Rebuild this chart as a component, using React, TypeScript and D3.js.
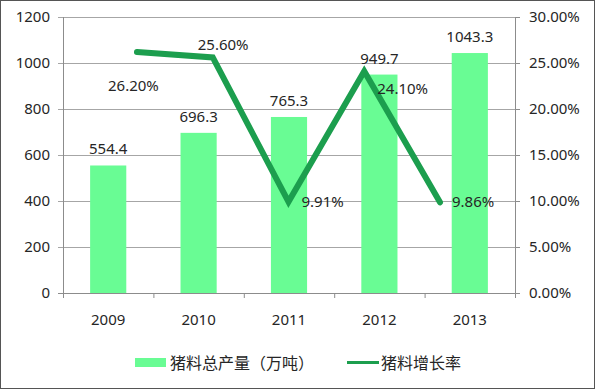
import React from "react";
import { scaleBand, scaleLinear, scalePoint, line } from "d3";

const years = ["2009", "2010", "2011", "2012", "2013"];
const output = [554.4, 696.3, 765.3, 949.7, 1043.3];
const growth = [26.2, 25.6, 9.91, 24.1, 9.86];
const leftTicks = [0, 200, 400, 600, 800, 1000, 1200];
const rightTicks = [0, 5, 10, 15, 20, 25, 30];

// data label nudges for the growth line (dx from point, dy from point)
const growthLabelOffsets = [
  [-29, 39],
  [-15, -7],
  [13, 5],
  [13, 23],
  [12, 5],
];

const W = 595;
const H = 390;
const left = 63;
const right = 515;
const top = 17;
const bottom = 293;
const font = "'Noto Sans', 'Noto Sans CJK SC', sans-serif";
const textColor = "#262626";
const barColor = "#69fc94";
const lineColor = "#1c9e4e";
const axisColor = "#8c8c8c";

const App = () => {
  const x = scaleBand().domain(years).range([left, right]).paddingInner(0.6).paddingOuter(0.3);
  const band = scaleBand().domain(years).range([left, right]);
  const xLine = scalePoint().domain(years).range([137, 440]);
  const y = scaleLinear().domain([0, 1200]).range([bottom, top]);
  const y2 = scaleLinear().domain([0, 30]).range([bottom, top]);

  const path = line<number>()
    .x((d, i) => xLine(years[i]) as number)
    .y((d) => y2(d))(growth);

  return (
    <svg
      width={W}
      height={H}
      style={{ position: "absolute", left: 0, top: 0, background: "#fff" }}
      fontFamily={font}
    >
      <rect x={0.5} y={0.5} width={W - 1} height={H - 2} fill="#fff" stroke="#555" />

      {/* gridlines */}
      {leftTicks.map((t) => (
        <line key={t} x1={left - 5} x2={right} y1={y(t) + 0.5} y2={y(t) + 0.5} stroke="#a6a6a6" />
      ))}

      {/* bars */}
      {output.map((v, i) => (
        <rect
          key={years[i]}
          x={x(years[i])}
          y={y(v)}
          width={x.bandwidth()}
          height={bottom - y(v)}
          fill={barColor}
        />
      ))}

      {/* axes */}
      <line x1={left + 0.5} x2={left + 0.5} y1={top} y2={bottom + 5} stroke={axisColor} />
      <line x1={right + 0.5} x2={right + 0.5} y1={top} y2={bottom + 5} stroke={axisColor} />
      <line x1={left - 5} x2={right} y1={bottom + 0.5} y2={bottom + 0.5} stroke={axisColor} />
      {rightTicks.map((t) => (
        <line key={t} x1={right} x2={right + 5} y1={y2(t) + 0.5} y2={y2(t) + 0.5} stroke={axisColor} />
      ))}
      {years.map((yr) => (
        <line
          key={yr}
          x1={(band(yr) as number) + band.bandwidth() + 0.5}
          x2={(band(yr) as number) + band.bandwidth() + 0.5}
          y1={bottom}
          y2={bottom + 5}
          stroke={axisColor}
        />
      ))}

      {leftTicks.map((t) => (
        <text key={t} x={50} y={y(t) + 5} textAnchor="end" fontSize={15} fill={textColor}>
          {t}
        </text>
      ))}
      {rightTicks.map((t) => (
        <text key={t} x={529} y={y2(t) + 5} fontSize={15} fill={textColor}>
          {t.toFixed(2)}%
        </text>
      ))}
      {years.map((yr) => (
        <text
          key={yr}
          x={(x(yr) as number) + x.bandwidth() / 2}
          y={325}
          textAnchor="middle"
          fontSize={15}
          fill={textColor}
        >
          {yr}
        </text>
      ))}

      {/* growth line */}
      <path d={path || ""} fill="none" stroke={lineColor} strokeWidth={6} strokeLinecap="round" />

      {/* bar labels */}
      {output.map((v, i) => (
        <text
          key={years[i]}
          x={(x(years[i]) as number) + x.bandwidth() / 2}
          y={y(v) - 11}
          textAnchor="middle"
          fontSize={15}
          fill={textColor}
        >
          {v.toFixed(1)}
        </text>
      ))}

      {/* line labels */}
      {growth.map((v, i) => (
        <text
          key={years[i]}
          x={(xLine(years[i]) as number) + growthLabelOffsets[i][0]}
          y={y2(v) + growthLabelOffsets[i][1]}
          fontSize={15}
          fill={textColor}
        >
          {v.toFixed(2)}%
        </text>
      ))}

      {/* legend */}
      <rect x={135} y={358} width={31} height={9} fill={barColor} />
      <text x={170} y={369} fontSize={16} fill={textColor}>
        猪料总产量（万吨）
      </text>
      <line x1={347} x2={379} y1={362.5} y2={362.5} stroke={lineColor} strokeWidth={3} />
      <text x={381} y={369} fontSize={16} fill={textColor}>
        猪料增长率
      </text>
    </svg>
  );
};

export default App;
